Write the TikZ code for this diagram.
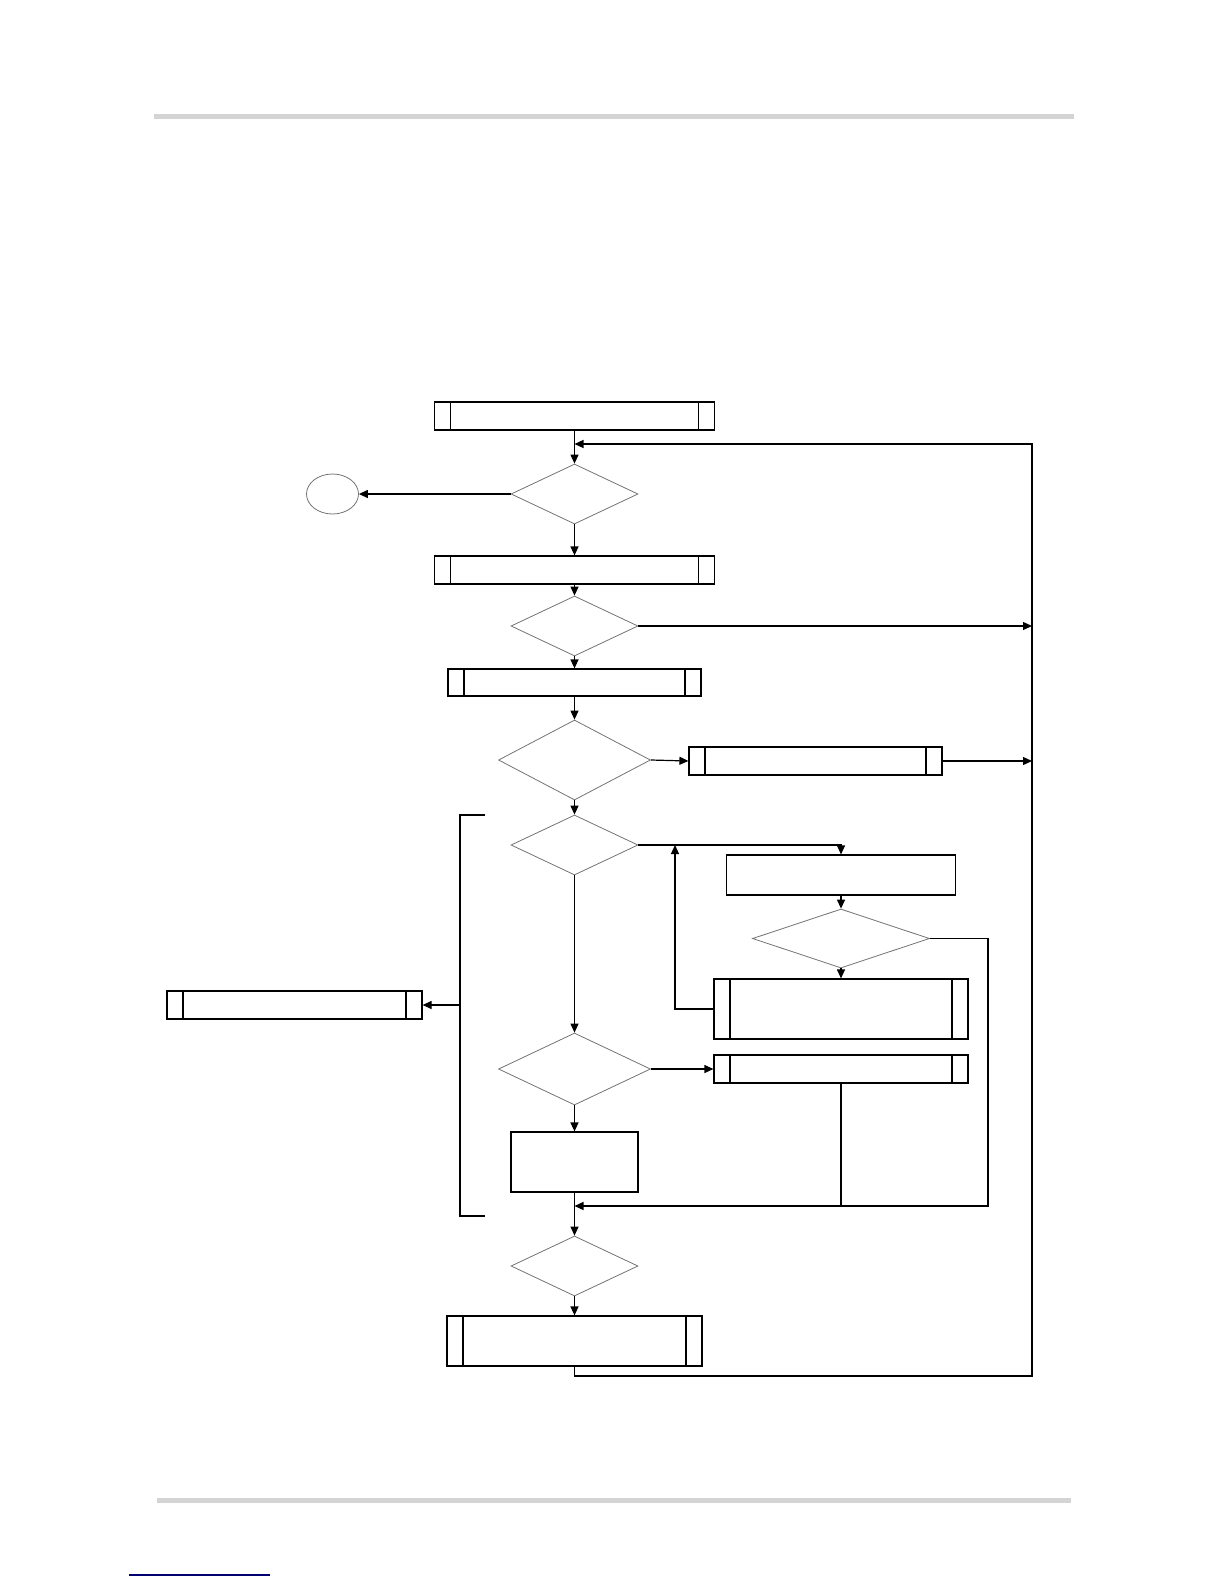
\documentclass[tikz,border=0pt]{standalone}
\usepackage{tikz}
\usetikzlibrary{
    arrows.meta,
    shapes.geometric
}
\tikzset{
  subproc/.style={draw, line width=0.6pt, inner sep=0pt,
    path picture={
      \draw[line width=0.6pt] ([xshift=8pt]path picture bounding box.north west) -- ([xshift=8pt]path picture bounding box.south west);
      \draw[line width=0.6pt] ([xshift=-8pt]path picture bounding box.north east) -- ([xshift=-8pt]path picture bounding box.south east);
    }},
  plainbox/.style={draw, line width=0.6pt, inner sep=0pt},
  decision/.style={diamond, draw=black!55, line width=0.4pt, inner sep=0pt},
  flow/.style={-{Triangle[length=4.5pt,width=4pt]}, line width=0.6pt},
  link/.style={line width=0.6pt}
}

\begin{document}
\begin{tikzpicture}[x=0.5pt,y=-0.5pt]
\useasboundingbox (0,0) rectangle (1224,1584);

% page rules
\fill[black!17] (154,114) rectangle (1074,119);
\fill[black!17] (157,1498) rectangle (1071,1503);
\draw[blue!45!black, line width=0.6pt] (129,1575) -- (270,1575);

% main column
\node[subproc, minimum width=140pt, minimum height=14pt] (start) at (574.5,416) {};
\node[decision, minimum width=63.5pt, minimum height=30pt] (dOne) at (574.5,494) {};
\node[ellipse, draw=black!55, line width=0.4pt, minimum width=26pt, minimum height=20pt] (stop) at (332.5,494) {};
\node[subproc, minimum width=140pt, minimum height=14pt] (sTwo) at (574.5,570) {};
\node[decision, minimum width=63.5pt, minimum height=30pt] (dTwo) at (574.5,626) {};
\node[subproc, minimum width=126.5pt, minimum height=13.5pt] (sThree) at (574.5,682.5) {};
\node[decision, minimum width=76pt, minimum height=40pt] (dThree) at (574.5,760) {};
\node[subproc, minimum width=126.5pt, minimum height=14pt] (sFour) at (815.5,761) {};
\node[decision, minimum width=63.5pt, minimum height=30pt] (dFour) at (574.5,845) {};
\node[decision, minimum width=76pt, minimum height=36pt] (dSix) at (574.5,1069) {};
\node[plainbox, minimum width=63.5pt, minimum height=30pt] (pEight) at (574.5,1162) {};
\node[decision, minimum width=63.5pt, minimum height=30pt] (dSeven) at (574.5,1266) {};
\node[subproc, minimum width=127.5pt, minimum height=25pt] (sNine) at (574.5,1341) {};

% inner loop
\node[plainbox, minimum width=114.5pt, minimum height=20pt] (pFive) at (841,875) {};
\node[decision, minimum width=88.5pt, minimum height=29.5pt] (dFive) at (841,938.5) {};
\node[subproc, minimum width=127pt, minimum height=30pt] (sSix) at (841,1009) {};
\node[subproc, minimum width=127pt, minimum height=14pt] (sSeven) at (841,1069) {};

% left box and bracket
\node[subproc, minimum width=127.5pt, minimum height=14pt] (sTen) at (294.5,1005) {};
\coordinate (brTop) at (485,815);
\coordinate (brBot) at (485,1216);
\coordinate (brMid) at (460,1005);

\coordinate (loopIn) at (574.5,444);
\coordinate (rightA) at (1032,626);
\coordinate (rightB) at (1032,761);
\coordinate (join) at (574.5,1206);

% connectors
\draw[flow] (start) -- (dOne);
\draw[flow] (dOne.west) -- (stop.east);
\draw[flow] (dOne) -- (sTwo);
\draw[flow] (sTwo) -- (dTwo);
\draw[flow] (dTwo.east) -- (rightA);
\draw[flow] (dTwo) -- (sThree);
\draw[flow] (sThree) -- (dThree);
\draw[flow] (dThree.east) -- (sFour.west);
\draw[flow] (sFour.east) -- (rightB);
\draw[flow] (dThree) -- (dFour);
\draw[flow] (dFour.east) -| (pFive.north);
\draw[flow] (pFive) -- (dFive);
\draw[flow] (dFive) -- (sSix);
\draw[flow] (sSix.west) -- (675,1009) -- (675,845);
\draw[flow] (dFive.east) -- (988,938.5) -- (988,1206) -- (join);
\draw[link] (sSeven.south) -- (841,1206);
\draw[flow] (dFour) -- (dSix);
\draw[flow] (dSix.east) -- (sSeven.west);
\draw[flow] (dSix) -- (pEight);
\draw[flow] (pEight) -- (dSeven);
\draw[flow] (dSeven) -- (sNine);
\draw[flow] (sNine.south) -- (574.5,1376) -- (1032,1376) -- (1032,444) -- (loopIn);

\draw[link] (brTop) -- (460,815) -- (460,1216) -- (brBot);
\draw[flow] (brMid) -- (sTen.east);
\end{tikzpicture}
\end{document}
